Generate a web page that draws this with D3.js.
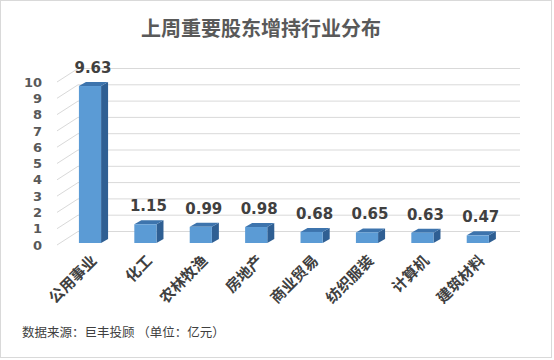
<!DOCTYPE html>
<html><head><meta charset="utf-8">
<script src="https://cdn.jsdelivr.net/npm/d3@7"></script>
<style>html,body{margin:0;padding:0;background:#fff;}svg{display:block;}</style>
</head><body>
<script>
const title = "上周重要股东增持行业分布";
const source = "数据来源：巨丰投顾 （单位：亿元）";
const categories = ["公用事业","化工","农林牧渔","房地产","商业贸易","纺织服装","计算机","建筑材料"];
const values = [9.63,1.15,0.99,0.98,0.68,0.65,0.63,0.47];
const yTicks = [0,1,2,3,4,5,6,7,8,9,10];

const W = 554, H = 360;
const font = "'Noto Sans CJK SC','Noto Sans',sans-serif";
const numFont = "'DejaVu Sans','Liberation Sans',sans-serif";
const svg = d3.select("body").append("svg").attr("width", W).attr("height", H);

svg.append("rect").attr("x",0.5).attr("y",0.5).attr("width",W-3).attr("height",H-3)
  .attr("fill","#fff").attr("stroke","#d9d9d9");

svg.append("text").attr("x",261).attr("y",36).attr("text-anchor","middle")
  .attr("font-family",font).attr("font-weight","bold").attr("font-size",20)
  .attr("fill","#595959").text(title);

const x = d3.scaleBand().domain(categories).range([62.3,505.5]).paddingInner(0.6).paddingOuter(0.3);
const y = d3.scaleLinear().domain([0,10]).range([243,80]);

const depthX = 7, depthY = -4;
const wallX0 = 57, wallX1 = 78, backDY = -11.5, wallRight = 520;

const grid = svg.append("g");
yTicks.forEach(t => {
  grid.append("line").attr("x1",wallX0).attr("y1",y(t)+2).attr("x2",wallX1).attr("y2",y(t)+backDY)
    .attr("stroke","#d9d9d9").attr("stroke-width",1);
  grid.append("line").attr("x1",wallX1).attr("y1",y(t)+backDY).attr("x2",wallRight).attr("y2",y(t)+backDY)
    .attr("stroke","#d9d9d9").attr("stroke-width",1);
});

svg.append("g").selectAll("text").data(yTicks).join("text")
  .attr("x",42).attr("y",t=>y(t)+2).attr("dy","0.36em").attr("text-anchor","end")
  .attr("font-family",numFont).attr("font-weight","bold").attr("font-size",13)
  .attr("fill","#595959").text(d=>d);

const bars = svg.append("g").selectAll("g").data(categories).join("g");
bars.each(function(c,i){
  const g = d3.select(this);
  const x0 = x(c), x1 = x(c)+x.bandwidth();
  const yt = y(values[i]), yb = y(0);
  g.append("path").attr("d",`M${x1},${yt}L${x1+depthX},${yt+depthY}L${x1+depthX},${yb+depthY}L${x1},${yb}Z`)
    .attr("fill","#2f5f93");
  g.append("path").attr("d",`M${x0},${yt}L${x0+depthX},${yt+depthY}L${x1+depthX},${yt+depthY}L${x1},${yt}Z`)
    .attr("fill","#3d74ad");
  g.append("rect").attr("x",x0).attr("y",yt).attr("width",x.bandwidth()).attr("height",yb-yt)
    .attr("fill","#5b9bd5");
});

svg.append("g").selectAll("text").data(categories).join("text")
  .attr("x",c=>x(c)+x.bandwidth()/2+3).attr("y",(c,i)=>y(values[i])-13)
  .attr("text-anchor","middle").attr("font-family",numFont).attr("font-weight","bold").attr("font-size",15)
  .attr("fill","#404040").text((c,i)=>values[i].toFixed(2));

svg.append("g").selectAll("text").data(categories).join("text")
  .attr("transform",c=>`translate(${x(c)+x.bandwidth()/2+4},${258}) rotate(-45)`)
  .attr("text-anchor","end").attr("dy","0.35em")
  .attr("font-family",font).attr("font-weight","bold").attr("font-size",15)
  .attr("fill","#404040").text(c=>c);

svg.append("text").attr("x",22).attr("y",337)
  .attr("font-family",font).attr("font-size",12.5).attr("fill","#404040").text(source);
</script>
</body></html>
